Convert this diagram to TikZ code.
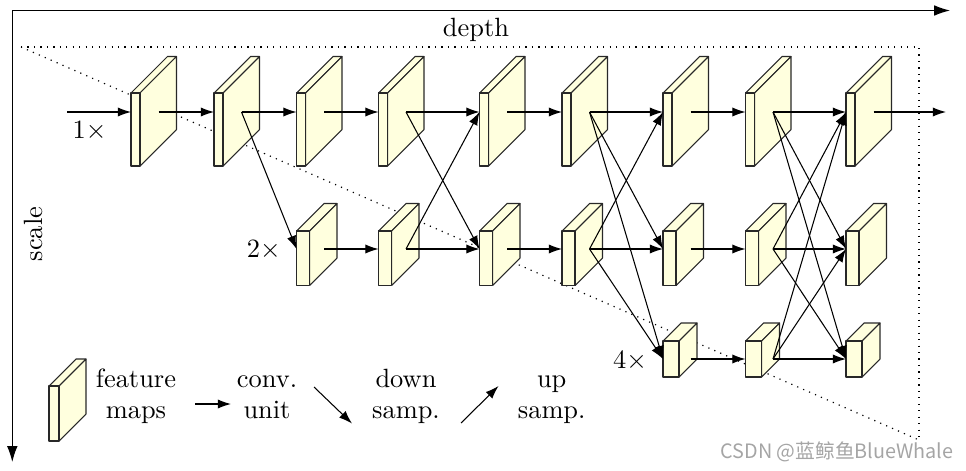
\documentclass[tikz,border=0pt]{standalone}
\usepackage{fontspec}
\usetikzlibrary{arrows.meta}
\newfontfamily\cjkfont{Noto Sans CJK SC}
\definecolor{mapfill}{RGB}{255,255,222}
\definecolor{mapedge}{RGB}{40,40,40}
\definecolor{wmgray}{RGB}{165,165,165}
\tikzset{
  mapface/.style={fill=mapfill, draw=mapedge, line width=0.4pt, line join=round},
  conn/.style={-{Latex[length=5pt,width=3.5pt]}, line width=0.4pt},
  axisarrow/.style={-{Latex[length=6pt,width=4pt]}, line width=0.4pt},
  guide/.style={dotted, line width=0.45pt},
  lbl/.style={inner sep=0pt, outer sep=0pt},
  legtext/.style={inner sep=0pt, outer sep=0pt, anchor=base},
}
% name, x, ytop, w, h, d, arrow y
\newcommand{\featmap}[7]{%
  \path[mapface] (#2,#3) -- ++(#6,-#6) -- ++(#4,0) -- ++(-#6,#6) -- cycle;
  \path[mapface] ({#2+#4},#3) -- ++(#6,-#6) -- ++(0,#5) -- ++(-#6,#6) -- cycle;
  \path[mapface] (#2,#3) rectangle ++(#4,#5);
  \coordinate (#1-in) at (#2,#7);
  \coordinate (#1-out) at ({#2+27.5},#7);
}
\begin{document}
\begin{tikzpicture}[x=0.3788pt, y=-0.3788pt]
\useasboundingbox (0,0) rectangle (966,470);

% axes
\coordinate (corner) at (12.3,10.5);
\coordinate (depthend) at (950,10.5);
\coordinate (scaleend) at (12.3,462);
\draw[axisarrow] (corner) -- (depthend);
\draw[axisarrow] (corner) -- (scaleend);
\node[lbl] (depthlbl) at (476,30.3) {depth};
\node[lbl, rotate=90] (scalelbl) at (33,234) {scale};

% dotted guide triangle
\coordinate (gA) at (21,47);
\coordinate (gB) at (919,47);
\coordinate (gC) at (919,440);
\draw[guide] (gA) -- (gB) -- (gC);
\draw[guide] (gA) -- (gC);

% row 1
\foreach \n/\x in {1/131, 2/214, 3/296.5, 4/378.5, 5/479.5, 6/562, 7/663, 8/745.5, 9/846}{
  \featmap{r1c\n}{\x}{93}{9}{73}{36.5}{112}
}
% row 2
\foreach \n/\x in {3/296.5, 4/378.5, 5/479.5, 6/562, 7/663, 8/745.5, 9/846}{
  \featmap{r2c\n}{\x}{231}{13}{54.5}{27.5}{249}
}
% row 3
\foreach \n/\x in {7/663, 8/745.5, 9/846}{
  \featmap{r3c\n}{\x}{341}{16}{36}{18}{359}
}

\node[lbl] (s1) at (89.5,131.5) {$1\times$};
\node[lbl] (s2) at (263.7,250.5) {$2\times$};
\node[lbl] (s4) at (630,361) {$4\times$};

% horizontal connections
\coordinate (netin) at (67,112);
\coordinate (netout) at (946,112);
\draw[conn] (netin) -- (r1c1-in);
\foreach \a/\b in {1/2,2/3,3/4,4/5,5/6,6/7,7/8,8/9}{
  \draw[conn] (r1c\a-out) -- (r1c\b-in);
}
\draw[conn] (r1c9-out) -- (netout);
\foreach \a/\b in {3/4,4/5,5/6,6/7,7/8,8/9}{
  \draw[conn] (r2c\a-out) -- (r2c\b-in);
}
\foreach \a/\b in {7/8,8/9}{
  \draw[conn] (r3c\a-out) -- (r3c\b-in);
}
% cross-scale connections
\draw[conn] (r1c2-out) -- (r2c3-in);
\draw[conn] (r1c4-out) -- (r2c5-in);
\draw[conn] (r2c4-out) -- (r1c5-in);
\draw[conn] (r1c6-out) -- (r2c7-in);
\draw[conn] (r1c6-out) -- (r3c7-in);
\draw[conn] (r2c6-out) -- (r1c7-in);
\draw[conn] (r2c6-out) -- (r3c7-in);
\draw[conn] (r1c8-out) -- (r2c9-in);
\draw[conn] (r1c8-out) -- (r3c9-in);
\draw[conn] (r2c8-out) -- (r1c9-in);
\draw[conn] (r2c8-out) -- (r3c9-in);
\draw[conn] (r3c8-out) -- (r1c9-in);
\draw[conn] (r3c8-out) -- (r2c9-in);

% legend
\featmap{leg}{49}{386}{10}{55}{27}{404}
\node[legtext] (lf1) at (136,387) {feature};
\node[legtext] (lf2) at (136,418.7) {maps};
\coordinate (lcA) at (195,404);
\coordinate (lcB) at (231,404);
\draw[conn] (lcA) -- (lcB);
\node[legtext] (lc1) at (267,387) {conv.};
\node[legtext] (lc2) at (267,418.7) {unit};
\coordinate (ldA) at (314,387);
\coordinate (ldB) at (352,423.5);
\draw[conn] (ldA) -- (ldB);
\node[legtext] (ld1) at (406,387) {down};
\node[legtext] (ld2) at (406,418.7) {samp.};
\coordinate (luA) at (461,423);
\coordinate (luB) at (498.5,386);
\draw[conn] (luA) -- (luB);
\node[legtext] (lu1) at (551.7,387) {up};
\node[legtext] (lu2) at (551.7,418.7) {samp.};

% watermark
\node[lbl, text=wmgray, font=\cjkfont\fontsize{7.5}{9}\selectfont] (wm) at (837,452) {CSDN @蓝鲸鱼BlueWhale};
\end{tikzpicture}
\end{document}
